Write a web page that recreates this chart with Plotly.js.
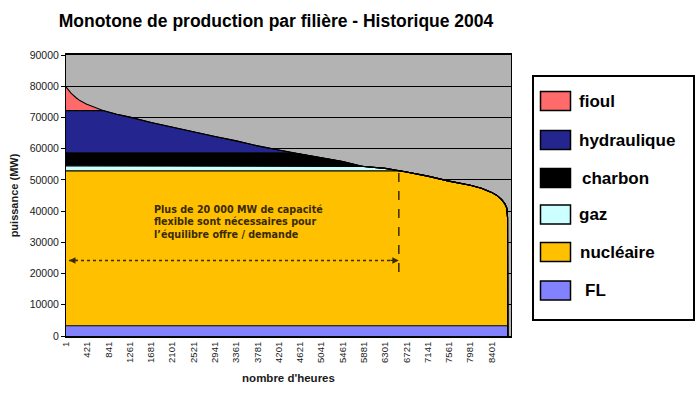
<!DOCTYPE html>
<html>
<head>
<meta charset="utf-8">
<script src="https://cdn.plot.ly/plotly-3.0.1.min.js"></script>
<style>
  html, body { margin: 0; padding: 0; background: #fff; }
  #chart { width: 700px; height: 395px; }
</style>
</head>
<body>
<div id="chart"></div>
<script>
// ---- data ----
const hours = [1, 100, 200, 276, 400, 533, 730, 1000, 1261, 1681, 2101, 2521, 2941, 3361, 3781, 4201, 4450, 4621, 5041, 5461, 5800, 5881, 6301, 6600, 6721, 7141, 7561, 7981, 8200, 8401, 8500, 8600, 8660, 8700, 8716, 8720];

const fl = [3300, 3300, 3300, 3300, 3300, 3300, 3300, 3300, 3300, 3300, 3300, 3300, 3300, 3300, 3300, 3300, 3300, 3300, 3300, 3300, 3300, 3300, 3300, 3300, 3300, 3300, 3300, 3300, 3300, 3300, 3300, 3300, 3300, 3300, 3300, 0];
const nucleaire = [49600, 49600, 49600, 49600, 49600, 49600, 49600, 49600, 49600, 49600, 49600, 49600, 49600, 49600, 49600, 49600, 49600, 49600, 49600, 49600, 49600, 49600, 49600, 49600, 49200, 47900, 46300, 45000, 44000, 42700, 41800, 40400, 39100, 37700, 34700, 0];
const gaz = [1600, 1600, 1600, 1600, 1600, 1600, 1600, 1600, 1600, 1600, 1600, 1600, 1600, 1600, 1600, 1600, 1600, 1600, 1600, 1600, 1600, 1400, 800, 0, 0, 0, 0, 0, 0, 0, 0, 0, 0, 0, 0, 0];
const charbon = [4200, 4200, 4200, 4200, 4200, 4200, 4200, 4200, 4200, 4200, 4200, 4200, 4200, 4200, 4200, 4200, 4200, 3800, 2600, 1400, 0, 0, 0, 0, 0, 0, 0, 0, 0, 0, 0, 0, 0, 0, 0, 0];
const hydraulique = [13500, 13500, 13500, 13500, 13500, 13500, 13500, 12300, 11400, 9700, 8200, 6500, 5200, 3800, 2200, 900, 0, 0, 0, 0, 0, 0, 0, 0, 0, 0, 0, 0, 0, 0, 0, 0, 0, 0, 0, 0];
const fioul = [7600, 5600, 4100, 3200, 2100, 1200, 0, 0, 0, 0, 0, 0, 0, 0, 0, 0, 0, 0, 0, 0, 0, 0, 0, 0, 0, 0, 0, 0, 0, 0, 0, 0, 0, 0, 0, 0];

const seriesNames = ['FL', 'nucléaire', 'gaz', 'charbon', 'hydraulique', 'fioul'];
const xTickHours = [1, 421, 841, 1261, 1681, 2101, 2521, 2941, 3361, 3781, 4201, 4621, 5041, 5461, 5881, 6301, 6721, 7141, 7561, 7981, 8401];
const xTickLabels = ['1', '421', '841', '1261', '1681', '2101', '2521', '2941', '3361', '3781', '4201', '4621', '5041', '5461', '5881', '6301', '6721', '7141', '7561', '7981', '8401'];
const yTickValues = [0, 10000, 20000, 30000, 40000, 50000, 60000, 70000, 80000, 90000];

// annotation values
const flexHour = 6570;          // hour where the flexible-capacity marker is drawn
const flexTop = 53200;          // load at that hour
const flexBottom = 20500;
const arrowLevel = 24200;
const arrowStartHour = 60;

// ---- styles ----
const colors = ['#8282FF', '#FFC000', '#CCFFFF', '#000000', '#25258F', '#FF6A6A'];
const seriesValues = [fl, nucleaire, gaz, charbon, hydraulique, fioul];

const M = { l: 66, r: 189, t: 55, b: 59 };
const W = 700, H = 395;
const PW = W - M.l - M.r, PH = H - M.t - M.b;
const px2x = px => (px - M.l) / PW;
const py2y = py => (H - M.b - py) / PH;

const traces = seriesNames.map((name, i) => ({
  type: 'scatter',
  mode: 'lines',
  name: name,
  x: hours,
  y: seriesValues[i],
  stackgroup: 'prod',
  fillcolor: colors[i],
  line: { color: '#000000', width: 1.1, shape: 'linear' },
  hoverinfo: 'skip',
  showlegend: false
}));

const annColor = '#3a2a05';

const shapes = [
  { type: 'line', xref: 'x', yref: 'y', x0: arrowStartHour, x1: flexHour, y0: arrowLevel, y1: arrowLevel,
    line: { color: annColor, width: 1.5, dash: 'dot' }, layer: 'above' },
  { type: 'line', xref: 'x', yref: 'y', x0: flexHour, x1: flexHour, y0: flexBottom, y1: flexTop,
    line: { color: annColor, width: 1.5, dash: 'dash' }, layer: 'above' },
  // custom legend box
  { type: 'rect', xref: 'paper', yref: 'paper', x0: px2x(533), x1: px2x(694), y0: py2y(320), y1: py2y(76),
    line: { color: '#000000', width: 2 }, fillcolor: '#ffffff', layer: 'above' }
];

// legend entries, top to bottom: fioul ... FL
const legendOrder = [5, 4, 3, 2, 1, 0];
const legendCenters = [101, 140, 178, 214.5, 252, 290.5];
const legendTextX = [577, 577, 580, 577, 578, 583];
const annotations = [
  { xref: 'x', yref: 'y', x: 1704, y: 36500, xanchor: 'left', yanchor: 'middle', align: 'left', showarrow: false,
    text: '<b>Plus de 20 000 MW de capacité<br>flexible sont nécessaires pour<br>l’équilibre offre / demande</b>',
    font: { family: 'DejaVu Sans', size: 9.6, color: annColor } },
  { xref: 'x', yref: 'y', x: arrowStartHour, y: arrowLevel, ax: 10, ay: 0, text: '', showarrow: true,
    arrowhead: 2, arrowsize: 1, arrowwidth: 1.3, arrowcolor: annColor },
  { xref: 'x', yref: 'y', x: flexHour, y: arrowLevel, ax: -10, ay: 0, text: '', showarrow: true,
    arrowhead: 2, arrowsize: 1, arrowwidth: 1.3, arrowcolor: annColor }
];

legendOrder.forEach((si, k) => {
  const c = legendCenters[k];
  shapes.push({ type: 'rect', xref: 'paper', yref: 'paper', x0: px2x(540.5), x1: px2x(570.5),
    y0: py2y(c + 9.5), y1: py2y(c - 9.5), line: { color: '#000000', width: 1.5 }, fillcolor: colors[si], layer: 'above' });
  annotations.push({ xref: 'paper', yref: 'paper', x: px2x(legendTextX[k]), y: py2y(c), xanchor: 'left', yanchor: 'middle',
    showarrow: false, text: '<b>' + seriesNames[si] + '</b>',
    font: { family: 'Liberation Sans, Arial, sans-serif', size: 17, color: '#000000' } });
});

const layout = {
  width: W, height: H,
  margin: M,
  paper_bgcolor: '#ffffff',
  plot_bgcolor: '#B3B3B3',
  showlegend: false,
  title: {
    text: '<b>Monotone de production par filière - Historique 2004</b>',
    xref: 'container', yref: 'container', x: 276 / W, xanchor: 'center', y: 1 - 20.5 / H, yanchor: 'middle',
    font: { family: 'Liberation Sans, Arial, sans-serif', size: 17.5, color: '#000000' }
  },
  xaxis: {
    type: 'linear', range: [1, 8784],
    tickmode: 'array', tickvals: xTickHours, ticktext: xTickLabels,
    tickangle: -90, ticks: '', showgrid: false, zeroline: false,
    showline: true, linecolor: '#000000', linewidth: 2, mirror: true,
    tickfont: { family: 'Liberation Sans, Arial, sans-serif', size: 9.5, color: '#1a1a1a' },
    title: { text: '<b>nombre d\'heures</b>', standoff: 12,
      font: { family: 'Liberation Sans, Arial, sans-serif', size: 11.5, color: '#1a1a1a' } }
  },
  yaxis: {
    range: [0, 90000], tickmode: 'array', tickvals: yTickValues, tickformat: 'd',
    ticks: 'outside', ticklen: 4, tickcolor: '#000000', tickwidth: 1,
    showgrid: true, gridcolor: '#000000', gridwidth: 1, zeroline: false,
    showline: true, linecolor: '#000000', linewidth: 1, mirror: true,
    tickfont: { family: 'Liberation Sans, Arial, sans-serif', size: 10.5, color: '#1a1a1a' },
    title: { text: '<b>puissance (MW)</b>', standoff: 8,
      font: { family: 'Liberation Sans, Arial, sans-serif', size: 11, color: '#1a1a1a' } }
  },
  shapes: shapes,
  annotations: annotations
};

Plotly.newPlot('chart', traces, layout, { staticPlot: true, displayModeBar: false });
</script>
</body>
</html>
